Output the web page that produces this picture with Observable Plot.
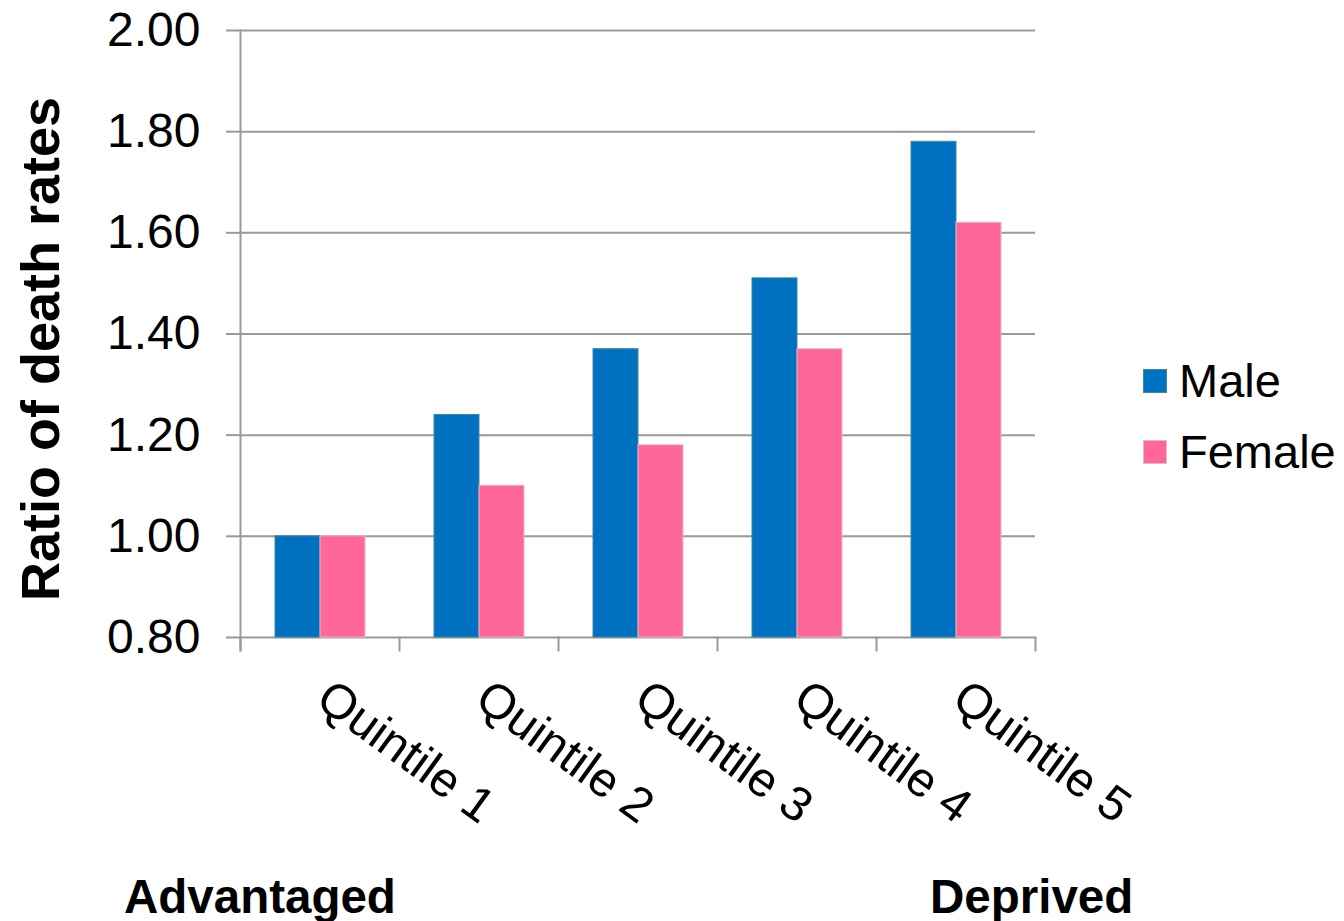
<!DOCTYPE html>
<html><head><meta charset="utf-8">
<script src="https://cdn.jsdelivr.net/npm/d3@7"></script>
<script src="https://cdn.jsdelivr.net/npm/@observablehq/plot@0.6"></script>
<style>
body{margin:0;background:#fff;font-family:"Liberation Sans",Arial,sans-serif}
#wrap{position:relative;width:1344px;height:921px}
.lab{position:absolute;font-weight:bold;font-size:47.5px;color:#000;line-height:1;white-space:nowrap}
.leg{position:absolute;font-size:47px;color:#000;line-height:1;white-space:nowrap}
.sw{position:absolute;width:24px;height:24px;box-sizing:border-box}
</style></head><body><div id="wrap"></div>
<script>
const quintiles = ["Quintile 1","Quintile 2","Quintile 3","Quintile 4","Quintile 5"];
const series = ["Male","Female"];
const male = [1.00,1.24,1.37,1.51,1.78];
const female = [1.00,1.10,1.18,1.37,1.62];
const yTicks = [0.8,1.0,1.2,1.4,1.6,1.8,2.0];
const colors = ["#0070C0","#FF6699"];
const outlines = ["#3f8a9a","#e8b8c8"];
const endLabels = ["Advantaged","Deprived"];
const yLabel = "Ratio of death rates";

const data = quintiles.flatMap((q,i)=>[
  {q, sex:series[0], v:male[i]},
  {q, sex:series[1], v:female[i]}
]);

const axisColor = "#999";
const plot = Plot.plot({
  width:1344, height:921,
  marginLeft:240, marginRight:309, marginTop:30, marginBottom:284,
  style:{fontFamily:"'Liberation Sans', Arial, sans-serif", fontSize:"47px", color:"#000", background:"#fff", overflow:"visible"},
  fx:{domain:quintiles, padding:0, label:null, axis:null},
  x:{domain:series, paddingInner:0, paddingOuter:0.747, axis:null},
  y:{domain:[yTicks[0], yTicks[yTicks.length-1]], label:null, axis:null},
  color:{domain:series, range:colors},
  marks:[
    Plot.ruleY(yTicks, {stroke:axisColor, strokeWidth:2}),
    Plot.barY(data, {fx:"q", x:"sex", y1:yTicks[0], y2:"v", fill:"sex",
      stroke:d=>outlines[series.indexOf(d.sex)], strokeWidth:1}),
    Plot.axisY({ticks:yTicks, tickFormat:d3.format(".2f"), tickSize:14, tickPadding:26,
      stroke:axisColor, strokeWidth:2, strokeOpacity:1, label:null, fontSize:48, fill:"#000"}),
    Plot.axisFx({anchor:"bottom", domain:quintiles, tickSize:0, tickPadding:0, tickRotate:36, textAnchor:"start",
      lineAnchor:"top", dy:39, dx:14, label:null, fontSize:48.5, fill:"#000"}),
    Plot.frame({anchor:"left", facet:"super", insetBottom:-13, stroke:axisColor, strokeWidth:2}),
    Plot.frame({anchor:"right", facet:"super", insetTop:607, insetBottom:-13, stroke:axisColor, strokeWidth:2}),
    Plot.frame({anchor:"left", insetTop:607, insetBottom:-13, stroke:axisColor, strokeWidth:2})
  ]
});

const wrap = document.getElementById("wrap");
plot.style.position = "absolute";
plot.style.left = "0"; plot.style.top = "0";
wrap.appendChild(plot);

// y-axis title
const yt = document.createElement("div");
yt.className = "lab";
yt.textContent = yLabel;
yt.style.fontSize = "54px";
yt.style.left = "40px"; yt.style.top = "349px";
yt.style.transform = "translate(-50%,-50%) rotate(-90deg)";
wrap.appendChild(yt);

// end labels
const a = document.createElement("div");
a.className = "lab"; a.textContent = endLabels[0];
a.style.left = "124px"; a.style.top = "873px";
wrap.appendChild(a);
const b = document.createElement("div");
b.className = "lab"; b.textContent = endLabels[1];
b.style.left = "930px"; b.style.top = "873px";
wrap.appendChild(b);

// legend
const legTops = [381, 452];
series.forEach((s,i)=>{
  const sw = document.createElement("div");
  sw.className = "sw";
  sw.style.background = colors[i];
  sw.style.border = "1px solid " + outlines[i];
  sw.style.left = "1143px"; sw.style.top = (legTops[i]-12) + "px";
  wrap.appendChild(sw);
  const t = document.createElement("div");
  t.className = "leg"; t.textContent = s;
  t.style.left = "1179px"; t.style.top = (legTops[i]-24) + "px";
  wrap.appendChild(t);
});
</script></body></html>
